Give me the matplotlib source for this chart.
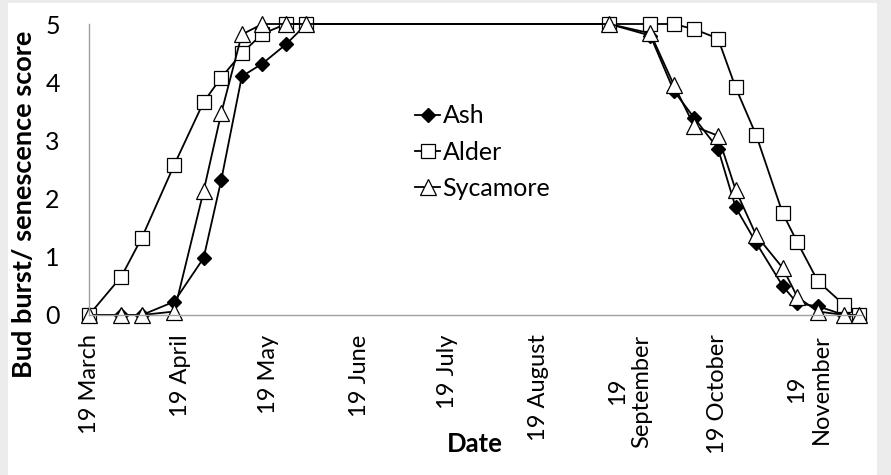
import pandas as pd
import matplotlib
matplotlib.use("Agg")
import matplotlib.pyplot as plt
import matplotlib.dates as mdates
from matplotlib.patches import Rectangle

# === DATA ===
dates = ["2013-03-19", "2013-03-30", "2013-04-06", "2013-04-17", "2013-04-27",
         "2013-05-03", "2013-05-10", "2013-05-17", "2013-05-25", "2013-06-01",
         "2013-09-12", "2013-09-26", "2013-10-04", "2013-10-11", "2013-10-19",
         "2013-10-25", "2013-11-01", "2013-11-10", "2013-11-15", "2013-11-22",
         "2013-12-01", "2013-12-06"]
ash = [0, 0, 0, 0.23, 0.98, 2.32, 4.10, 4.32, 4.65, 5,
       5, 4.8, 3.85, 3.38, 2.86, 1.85, 1.24, 0.50, 0.2, 0.15, 0, 0]
alder = [0, 0.66, 1.33, 2.58, 3.66, 4.08, 4.50, 4.83, 5, 5,
         5, 5, 5, 4.91, 4.75, 3.91, 3.09, 1.75, 1.25, 0.58, 0.17, 0]
sycamore = [0, 0, 0, 0.06, 2.13, 3.47, 4.82, 5, 5, 5,
            5, 4.84, 3.95, 3.24, 3.08, 2.15, 1.37, 0.81, 0.31, 0.06, 0, 0]

tick_dates = ["2013-03-19", "2013-04-19", "2013-05-19", "2013-06-19", "2013-07-19",
              "2013-08-19", "2013-09-19", "2013-10-19", "2013-11-19"]
tick_labels = ["19 March", "19 April", "19 May", "19 June", "19 July",
               "19 August", "19\nSeptember", "19 October", "19\nNovember"]

x = pd.to_datetime(dates)
FONT = "Lato"

# === FIGURE ===
fig = plt.figure(figsize=(8.91, 4.75), dpi=100, facecolor="#ececec")
fig.patches.append(Rectangle((8 / 891, 0), 869 / 891, 1 - 3 / 475,
                             transform=fig.transFigure, facecolor="white",
                             edgecolor="none", zorder=-10))
ax = fig.add_axes([89 / 891, 1 - 315 / 475, (862 - 89) / 891, (315 - 24) / 475])
ax.set_facecolor("none")

ax.plot(x, ash, color="black", lw=1.3, marker="D", ms=7,
        mfc="black", mec="black", label="Ash", clip_on=False)
ax.plot(x, alder, color="black", lw=1.3, marker="s", ms=10,
        mfc="white", mec="black", mew=0.9, label="Alder", clip_on=False)
ax.plot(x, sycamore, color="black", lw=1.3, marker="^", ms=11,
        mfc="white", mec="black", mew=0.9, label="Sycamore", clip_on=False)

ax.set_xlim(pd.Timestamp("2013-03-19"), pd.Timestamp("2013-12-07"))
ax.set_ylim(0, 5)
ax.set_yticks(range(6))
ax.set_xticks(mdates.date2num(pd.to_datetime(tick_dates)))
ax.set_xticklabels(tick_labels, rotation=90, multialignment="center",
                   fontsize=17, family=FONT)
for lab in ax.get_yticklabels():
    lab.set_fontsize(18)
    lab.set_family(FONT)
ax.tick_params(axis="x", length=0, pad=14)
ax.tick_params(axis="y", length=0, pad=21)

for s in ["top", "right"]:
    ax.spines[s].set_visible(False)
for s in ["left", "bottom"]:
    ax.spines[s].set_color("#a0a0a0")
    ax.spines[s].set_linewidth(1)

fig.text(24 / 891, 1 - 204 / 475, "Bud burst/ senescence score", rotation=90,
         ha="center", va="center", fontsize=19.5, fontweight="bold", family=FONT)
fig.text(475 / 891, 1 - 444 / 475, "Date", ha="center", va="center",
         fontsize=18.5, fontweight="bold", family=FONT)

ax.legend(loc="center left", bbox_to_anchor=(415 / 891, 1 - 152 / 475),
          bbox_transform=fig.transFigure, frameon=False, borderpad=0,
          borderaxespad=0, handlelength=1.0, handletextpad=0.1,
          labelspacing=0.53, prop={"family": FONT, "size": 18})

fig.savefig("out.png", dpi=100, facecolor=fig.get_facecolor())
